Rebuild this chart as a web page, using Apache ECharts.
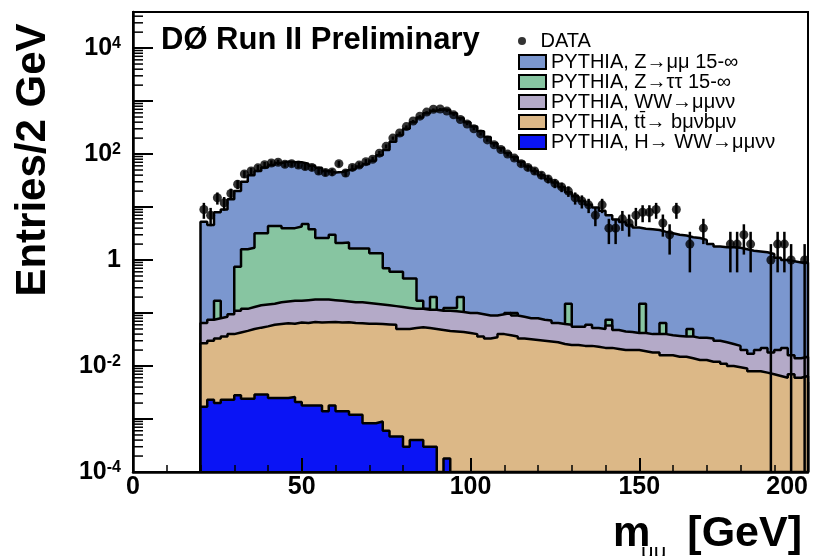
<!DOCTYPE html>
<html>
<head>
<meta charset="utf-8">
<script src="https://cdn.jsdelivr.net/npm/echarts@6/dist/echarts.min.js"></script>
<style>
html,body{margin:0;padding:0;background:#fff;}
#c{width:835px;height:556px;}
</style>
</head>
<body>
<div id="c"></div>
<script>
// ---------- data (2 GeV bins, low edges) ----------
const binLow = [
  20,22,24,26,28,30,32,34,36,38, 40,42,44,46,48,50,52,54,56,58,
  60,62,64,66,68,70,72,74,76,78, 80,82,84,86,88,90,92,94,96,98,
  100,102,104,106,108,110,112,114,116,118, 120,122,124,126,128,130,132,134,136,138,
  140,142,144,146,148,150,152,154,156,158, 160,162,164,166,168,170,172,174,176,178,
  180,182,184,186,188,190,192,194,196,198
];
const binWidth = 2;

const zmumu = [
  5.3, 4.6, 8, 9, 14, 20, 30, 40, 48, 56,
  62, 68, 72, 70, 70, 66, 60, 55, 48, 45,
  46, 50, 52, 58, 65, 75, 95, 120, 170, 230,
  300, 400, 490, 590, 660, 700, 680, 590, 480, 400,
  330, 270, 210, 160, 130, 105, 88, 72, 58, 48,
  40, 34, 29, 24, 19, 16, 13, 11, 9.8, 8.5,
  7, 5.8, 5.2, 4.6, 4.1, 3.9, 3.8, 3.7, 3.4, 3.2,
  3.0, 2.9, 2.7, 2.6, 2.4, 2.0, 1.8, 1.75, 1.75, 1.7,
  1.6, 1.5, 1.45, 1.4, 1.3, 1.1, 1.0, 0.95, 0.9, 0.9
];
const ztautau = [
  0.02, 0.03, 0.17, 0.03, 0.05, 0.75, 1.6, 1.7, 3.2, 3.2,
  4.4, 4.4, 4.0, 4.0, 4.3, 4.8, 3.8, 2.6, 2.6, 3.0,
  2.1, 2.15, 1.66, 1.66, 1.66, 1.34, 1.34, 0.7, 0.6, 0.6,
  0.45, 0.45, 0.17, 0.12, 0.2, 0.11, 0.125, 0.125, 0.2, 0.08,
  0.06, 0.05, 0.04, 0.03, 0.05, 0.1, 0.1, 0.05, 0.08, 0.08,
  0.04, 0.03, 0.02, 0.03, 0.15, 0.02, 0.03, 0.03, 0.02, 0.03,
  0.075, 0.02, 0.02, 0.02, 0.02, 0.15, 0.02, 0.02, 0.065, 0.02,
  0.02, 0.02, 0.05, 0.01, 0.01, 0.01, 0.01, 0.01, 0.01, 0.01,
  0.005, 0.005, 0.005, 0.005, 0.005, 0.005, 0.005, 0.005, 0.005, 0.005
];
const wwmumu = [
  0.065, 0.075, 0.08, 0.085, 0.095, 0.11, 0.12, 0.13, 0.14, 0.145,
  0.15, 0.16, 0.165, 0.17, 0.17, 0.175, 0.18, 0.18, 0.18, 0.175,
  0.17, 0.165, 0.16, 0.16, 0.155, 0.15, 0.145, 0.14, 0.135, 0.13,
  0.125, 0.12, 0.12, 0.115, 0.115, 0.11, 0.11, 0.108, 0.105, 0.1,
  0.1, 0.095, 0.09, 0.09, 0.095, 0.1, 0.09, 0.085, 0.08, 0.08,
  0.075, 0.072, 0.065, 0.062, 0.06, 0.055, 0.055, 0.06, 0.052, 0.05,
  0.058, 0.048, 0.045, 0.044, 0.042, 0.042, 0.04, 0.04, 0.04, 0.038,
  0.037, 0.036, 0.036, 0.034, 0.034, 0.033, 0.03, 0.028, 0.026, 0.024,
  0.02, 0.017, 0.02, 0.022, 0.018, 0.02, 0.022, 0.016, 0.014, 0.015
];
const ttbar = [
  0.027, 0.03, 0.033, 0.036, 0.04, 0.043, 0.046, 0.05, 0.053, 0.056,
  0.06, 0.062, 0.064, 0.063, 0.066, 0.065, 0.068, 0.066, 0.067, 0.068,
  0.066, 0.067, 0.065, 0.064, 0.063, 0.063, 0.062, 0.061, 0.06, 0.05,
  0.05, 0.052, 0.054, 0.052, 0.05, 0.048, 0.046, 0.045, 0.044, 0.042,
  0.04, 0.036, 0.033, 0.035, 0.04, 0.038, 0.036, 0.033, 0.032, 0.031,
  0.03, 0.029, 0.028, 0.026, 0.025, 0.025, 0.024, 0.024, 0.023, 0.022,
  0.022, 0.021, 0.02, 0.02, 0.02, 0.019, 0.018, 0.018, 0.016, 0.016,
  0.015, 0.015, 0.014, 0.013, 0.013, 0.012, 0.012, 0.011, 0.01, 0.0095,
  0.009, 0.008, 0.008, 0.0075, 0.007, 0.0065, 0.006, 0.007, 0.006, 0.0065
];
const higgs = [
  0.0017, 0.0023, 0.002, 0.0023, 0.0023, 0.0028, 0.0024, 0.0024, 0.0029, 0.0029,
  0.0025, 0.0025, 0.0025, 0.0026, 0.0021, 0.0018, 0.0018, 0.0018, 0.0014, 0.0018,
  0.0014, 0.0014, 0.0012, 0.0012, 0.00083, 0.00083, 0.0009, 0.0006, 0.00047, 0.00047,
  0.0003, 0.0004, 0.0004, 0.0003, 0.0003, 0, 0.00018, 0, 0, 0,
  0, 0, 0, 0, 0, 0, 0, 0, 0, 0,
  0, 0, 0, 0, 0, 0, 0, 0, 0, 0,
  0, 0, 0, 0, 0, 0, 0, 0, 0, 0,
  0, 0, 0, 0, 0, 0, 0, 0, 0, 0,
  0, 0, 0, 0, 0, 0, 0, 0, 0, 0
];
const dataCounts = [
  9, 7, 15, 12, 18, 27, 42, 48, 55, 63,
  68, 70, 64, 66, 62, 58, 56, 48, 45, 46,
  66, 44, 56, 62, 72, 80, 104, 140, 200, 250,
  330, 420, 520, 620, 700, 710, 650, 550, 450, 370,
  300, 240, 185, 150, 122, 100, 84, 66, 56, 48,
  40, 34, 28, 24, 20, 15, 13, 11, 7, 11,
  4, 4, 6, 5, 7, 8, 8, 9, 5, 3,
  9, 0, 2, 0, 4, 0, 0, 0, 2, 2,
  3, 2, 0, 0, 1, 2, 2, 1, 0, 1
];

const seriesNames = [
  'PYTHIA, Z\u2192\u03bc\u03bc 15-\u221e',
  'PYTHIA, Z\u2192\u03c4\u03c4 15-\u221e',
  'PYTHIA, WW\u2192\u03bc\u03bc\u03bd\u03bd',
  'PYTHIA, tt\u0304\u2192 b\u03bc\u03bdb\u03bc\u03bd',
  'PYTHIA, H\u2192 WW\u2192\u03bc\u03bc\u03bd\u03bd'
];
const dataName = 'DATA';
const yTickExponents = [-4, -3, -2, -1, 0, 1, 2, 3, 4];

// ---------- styling ----------
const FONT = '"Liberation Sans", Arial, Helvetica, sans-serif';
const fillColors = ['#7b97cf', '#87c5a1', '#b4aac8', '#dcb887', '#0a14f5'];
const YMIN = 1e-4, YMAX = 4.8e4;

function histLine(vals) {
  const pts = [[binLow[0], YMIN]];
  vals.forEach((v, i) => pts.push([binLow[i], Math.max(v, YMIN)]));
  const last = binLow[binLow.length - 1] + binWidth;
  pts.push([last, Math.max(vals[vals.length - 1], YMIN)]);
  pts.push([last, YMIN]);
  return pts;
}

const mcSets = [zmumu, ztautau, wwmumu, ttbar, higgs];
const series = mcSets.map((vals, k) => ({
  name: seriesNames[k],
  type: 'line',
  step: 'end',
  symbol: 'none',
  data: histLine(vals),
  itemStyle: { color: fillColors[k] },
  lineStyle: { color: '#000', width: 2.5 },
  areaStyle: { color: fillColors[k], opacity: 1, origin: 'start' },
  z: 2 + k,
  animation: false,
  silent: true
}));

const pts = [], errs = [];
dataCounts.forEach((n, i) => {
  if (n <= 0) return;
  const x = binLow[i] + binWidth / 2;
  const e = Math.sqrt(n);
  pts.push([x, n]);
  errs.push([x, Math.max(n - e, YMIN), n + e]);
});

series.push({
  name: 'errors',
  type: 'custom',
  data: errs,
  encode: { x: 0, y: [1, 2] },
  z: 20,
  silent: true,
  animation: false,
  renderItem: function (params, api) {
    const a = api.coord([api.value(0), api.value(1)]);
    const b = api.coord([api.value(0), api.value(2)]);
    return { type: 'line', shape: { x1: a[0], y1: a[1], x2: b[0], y2: b[1] },
             style: { stroke: '#000', lineWidth: 2.5 } };
  }
});
series.push({
  name: dataName,
  type: 'scatter',
  data: pts,
  symbol: 'circle',
  symbolSize: 9,
  itemStyle: { color: '#000' },
  z: 21,
  animation: false,
  silent: true
});

// minor log ticks on the y axis
const minorTickVals = [];
yTickExponents.forEach(e => {
  for (let k = 2; k <= 9; k++) {
    const v = k * Math.pow(10, e);
    if (v < YMAX) minorTickVals.push([0, v]);
  }
});
series.push({
  name: 'yminor',
  type: 'custom',
  data: minorTickVals,
  encode: { x: 0, y: 1 },
  z: 30,
  silent: true,
  animation: false,
  clip: false,
  renderItem: function (params, api) {
    const p = api.coord([0, api.value(1)]);
    return { type: 'line', shape: { x1: p[0], y1: p[1], x2: p[0] + 10, y2: p[1] },
             style: { stroke: '#000', lineWidth: 1.5 } };
  }
});

const chart = echarts.init(document.getElementById('c'), null, { renderer: 'canvas' });
chart.setOption({
  backgroundColor: '#fff',
  animation: false,
  title: {
    text: 'D\u00d8 Run II Preliminary',
    left: 161, top: 25,
    padding: 0,
    textStyle: { fontFamily: FONT, fontWeight: 'bold', fontSize: 31, color: '#000' }
  },
  legend: [
    {
      data: [{ name: dataName, icon: 'circle' }],
      orient: 'vertical', left: 518, top: 31, padding: 0,
      itemWidth: 27, itemHeight: 8, itemGap: 0,
      textStyle: { fontFamily: FONT, fontSize: 20, lineHeight: 20, color: '#000' },
      selectedMode: false
    },
    {
      data: seriesNames.map((n, k) => ({ name: n, icon: 'rect',
        itemStyle: { color: fillColors[k], borderColor: '#000', borderWidth: 2 } })),
      orient: 'vertical', left: 518, top: 52, padding: 0,
      itemWidth: 27, itemHeight: 14, itemGap: 0,
      textStyle: { fontFamily: FONT, fontSize: 20, lineHeight: 20, color: '#000' },
      selectedMode: false
    }
  ],
  grid: {
    left: 133, right: 27, top: 12, bottom: 84,
    show: true, borderColor: '#000', borderWidth: 2, z: 40
  },
  xAxis: {
    type: 'value', min: 0, max: 200, interval: 50, z: 40,
    axisLine: { lineStyle: { color: '#000', width: 2.5 } },
    axisTick: { inside: true, length: 14, lineStyle: { color: '#000', width: 2 } },
    minorTick: { show: true, splitNumber: 5, length: 7, lineStyle: { color: '#000', width: 1.5 } },
    splitLine: { show: false },
    axisLabel: { margin: 3, alignMaxLabel: 'right', fontFamily: FONT, fontWeight: 'bold', fontSize: 25, color: '#000' }
  },
  yAxis: {
    type: 'log', logBase: 10, min: YMIN, max: YMAX, z: 40,
    axisLine: { lineStyle: { color: '#000', width: 2.5 } },
    axisTick: { inside: true, length: 20, lineStyle: { color: '#000', width: 2 } },
    splitLine: { show: false },
    axisLabel: {
      margin: 12,
      formatter: function (v) {
        const e = Math.round(Math.log10(v));
        if (Math.abs(Math.log10(v) - e) > 1e-6) return '';
        if (e % 2 !== 0) return '';
        if (e === 0) return '{b|1}';
        return '{b|10}{s|' + e + '}';
      },
      rich: {
        b: { fontFamily: FONT, fontWeight: 'bold', fontSize: 25, color: '#000' },
        s: { fontFamily: FONT, fontWeight: 'bold', fontSize: 16, color: '#000', lineHeight: 6, verticalAlign: 'top' }
      }
    }
  },
  graphic: [
    { type: 'text', x: 33, y: 160, rotation: Math.PI / 2, silent: true,
      style: { text: 'Entries/2 GeV', fill: '#000', font: 'bold 42px ' + FONT,
               textAlign: 'center', textVerticalAlign: 'middle' } },
    { type: 'text', x: 613, y: 534, silent: true,
      style: { text: 'm', fill: '#000', font: 'bold 42px ' + FONT,
               textAlign: 'left', textVerticalAlign: 'middle' } },
    { type: 'text', x: 641, y: 553, silent: true,
      style: { text: '\u03bc\u03bc', fill: '#000', font: '22px ' + FONT,
               textAlign: 'left', textVerticalAlign: 'middle' } },
    { type: 'text', x: 802, y: 534, silent: true,
      style: { text: '[GeV]', fill: '#000', font: 'bold 43px ' + FONT,
               textAlign: 'right', textVerticalAlign: 'middle' } }
  ],
  series: series
});
</script>
</body>
</html>
